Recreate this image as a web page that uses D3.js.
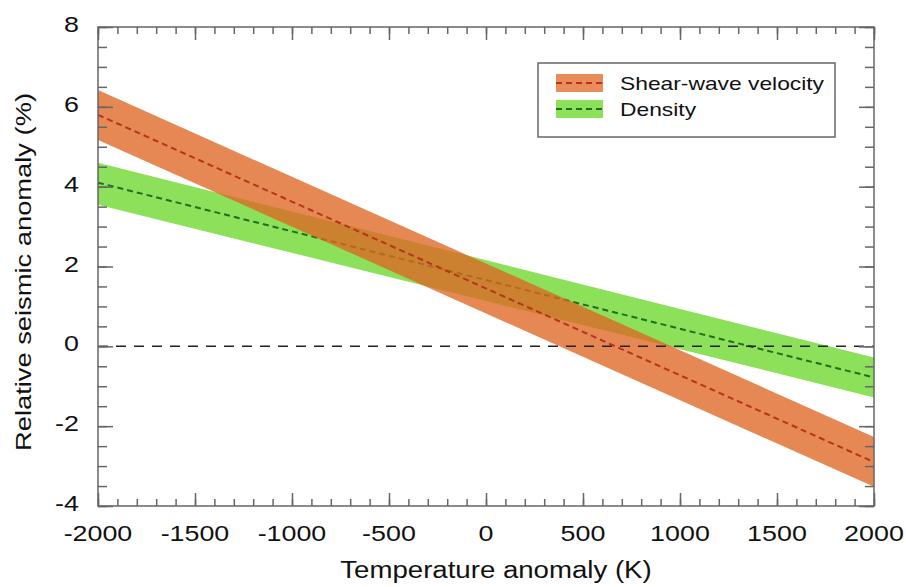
<!DOCTYPE html>
<html>
<head>
<meta charset="utf-8">
<script src="https://cdn.jsdelivr.net/npm/d3@7"></script>
<style>
body { margin: 0; background: #fff; }
text { font-family: "Liberation Sans", Arial, sans-serif; fill: #111; }
</style>
</head>
<body>
<div id="chart"></div>
<script>
// data
var temp = [-2000, 2000];
var vsMid = [5.8, -2.9];
var vsHigh = [6.42, -2.27];
var vsLow = [5.17, -3.52];
var rhoMid = [4.1, -0.78];
var rhoHigh = [4.6, -0.28];
var rhoLow = [3.55, -1.28];
var xTicks = [-2000, -1500, -1000, -500, 0, 500, 1000, 1500, 2000];
var yTicks = [-4, -2, 0, 2, 4, 6, 8];

var width = 906, height = 587;
var pLeft = 98, pRight = 874, pTop = 27, pBottom = 506;

var svg = d3.select("#chart").append("svg")
    .attr("width", width)
    .attr("height", height);

var x = d3.scaleLinear().domain([-2000, 2000]).range([pLeft, pRight]);
var y = d3.scaleLinear().domain([-4, 8]).range([pBottom, pTop]);

// stretch text horizontally like in the scanned figure
function stretch(sel, k) {
    sel.each(function() {
        var len = this.getComputedTextLength();
        d3.select(this).attr("textLength", len * k).attr("lengthAdjust", "spacingAndGlyphs");
    });
}

function band(hi, lo) {
    var pts = temp.map(function(t, i) { return [x(t), y(hi[i])]; });
    for (var i = temp.length - 1; i >= 0; i--) pts.push([x(temp[i]), y(lo[i])]);
    return d3.line()(pts) + "Z";
}
var line = d3.line()
    .x(function(d) { return x(d[0]); })
    .y(function(d) { return y(d[1]); });
function pairs(vals) { return temp.map(function(t, i) { return [t, vals[i]]; }); }

var plot = svg.append("g");
plot.append("path").attr("d", band(rhoHigh, rhoLow)).attr("fill", "#8ce05a");
plot.append("path").attr("d", line(pairs(rhoMid)))
    .attr("fill", "none").attr("stroke", "#1f6e1f").attr("stroke-width", 2).attr("stroke-dasharray", "6,4");
plot.append("path").attr("d", band(vsHigh, vsLow)).attr("fill", "rgb(222,102,36)").attr("opacity", 0.78);
plot.append("path").attr("d", line(pairs(vsMid)))
    .attr("fill", "none").attr("stroke", "#b8321c").attr("stroke-width", 2).attr("stroke-dasharray", "6,4");

// zero line
plot.append("path").attr("d", line([[-2000, 0], [2000, 0]]))
    .attr("fill", "none").attr("stroke", "#222").attr("stroke-width", 1.5).attr("stroke-dasharray", "10,8");

// axes (ticks point inward)
var axisColor = "#666";
function styleAxis(g) {
    g.select(".domain").remove();
    g.selectAll("line").attr("stroke", axisColor).attr("stroke-width", 1.5);
    g.selectAll("text").remove();
}
var xMinor = d3.range(-2000, 2001, 100);
var yMinor = d3.range(-4, 8.01, 0.5);

svg.append("g").attr("transform", "translate(0," + pBottom + ")")
    .call(d3.axisBottom(x).tickValues(xMinor).tickSize(-7)).call(styleAxis);
svg.append("g").attr("transform", "translate(0," + pBottom + ")")
    .call(d3.axisBottom(x).tickValues(xTicks).tickSize(-13)).call(styleAxis);
svg.append("g").attr("transform", "translate(0," + pTop + ")")
    .call(d3.axisTop(x).tickValues(xMinor).tickSize(-7)).call(styleAxis);
svg.append("g").attr("transform", "translate(0," + pTop + ")")
    .call(d3.axisTop(x).tickValues(xTicks).tickSize(-13)).call(styleAxis);
svg.append("g").attr("transform", "translate(" + pLeft + ",0)")
    .call(d3.axisLeft(y).tickValues(yMinor).tickSize(-9)).call(styleAxis);
svg.append("g").attr("transform", "translate(" + pLeft + ",0)")
    .call(d3.axisLeft(y).tickValues(yTicks).tickSize(-15)).call(styleAxis);
svg.append("g").attr("transform", "translate(" + pRight + ",0)")
    .call(d3.axisRight(y).tickValues(yMinor).tickSize(-9)).call(styleAxis);
svg.append("g").attr("transform", "translate(" + pRight + ",0)")
    .call(d3.axisRight(y).tickValues(yTicks).tickSize(-15)).call(styleAxis);

svg.append("rect")
    .attr("x", pLeft).attr("y", pTop)
    .attr("width", pRight - pLeft).attr("height", pBottom - pTop)
    .attr("fill", "none").attr("stroke", axisColor).attr("stroke-width", 1.5);

// tick labels
svg.append("g").selectAll("text")
    .data(xTicks)
    .enter()
    .append("text")
    .attr("x", function(d) { return x(d); })
    .attr("y", 541)
    .attr("text-anchor", "middle")
    .attr("font-size", 22)
    .text(function(d) { return String(d); })
    .call(stretch, 1.22);

svg.append("g").selectAll("text")
    .data(yTicks)
    .enter()
    .append("text")
    .attr("x", 79)
    .attr("y", function(d) { return y(d) + 5; })
    .attr("text-anchor", "end")
    .attr("font-size", 22)
    .text(function(d) { return String(d); })
    .call(stretch, 1.22);

// axis titles
svg.append("text")
    .attr("x", 496).attr("y", 578)
    .attr("text-anchor", "middle")
    .attr("font-size", 23)
    .text("Temperature anomaly (K)")
    .call(stretch, 1.2);

svg.append("text")
    .attr("transform", "translate(31,272) rotate(-90)")
    .attr("text-anchor", "middle")
    .attr("font-size", 22)
    .attr("textLength", 358)
    .attr("lengthAdjust", "spacingAndGlyphs")
    .text("Relative seismic anomaly (%)");

// legend
var legend = svg.append("g");
legend.append("rect")
    .attr("x", 538).attr("y", 63).attr("width", 297).attr("height", 74)
    .attr("fill", "#fff").attr("stroke", "#666").attr("stroke-width", 1.5);
var legendItems = [
    { name: "Shear-wave velocity", fill: "#e88c5a", stroke: "#b8321c" },
    { name: "Density", fill: "#8ce05a", stroke: "#1f6e1f" }
];
legendItems.forEach(function(d, i) {
    var cy = 83 + i * 26;
    legend.append("rect")
        .attr("x", 556).attr("y", cy - 9).attr("width", 47).attr("height", 18)
        .attr("fill", d.fill);
    legend.append("line")
        .attr("x1", 556).attr("x2", 603).attr("y1", cy).attr("y2", cy)
        .attr("stroke", d.stroke).attr("stroke-width", 2).attr("stroke-dasharray", "6,4");
    legend.append("text")
        .attr("x", 620).attr("y", cy + 7)
        .attr("font-size", 19)
        .text(d.name)
        .call(stretch, 1.2);
});
</script>
</body>
</html>
